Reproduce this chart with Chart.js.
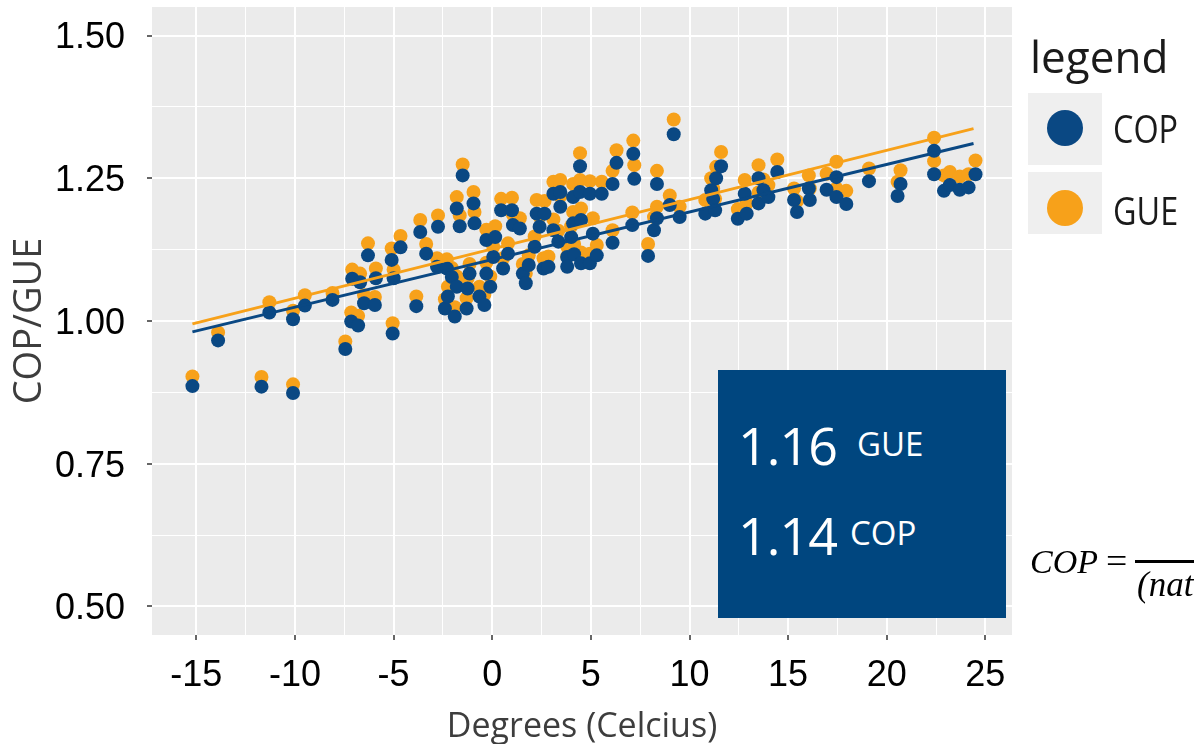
<!DOCTYPE html>
<html>
<head>
<meta charset="utf-8">
<script src="https://cdn.jsdelivr.net/npm/chart.js@4.4.1/dist/chart.umd.min.js"></script>
<style>
html, body { margin:0; padding:0; overflow:hidden; background:#fff; }
#wrap { position:relative; width:1194px; height:744px; overflow:hidden; }
canvas { position:absolute; left:0; top:0; }
.ov { position:absolute; white-space:nowrap; line-height:1; }
</style>
</head>
<body>
<div id="wrap">
<canvas id="c" width="1194" height="744" style="width:1194px;height:744px"></canvas>

<div class="ov" style="left:1030px;top:34px;font-family:'Open Sans';font-size:44px;color:#1a1a1a;">legend</div>
<div class="ov" style="left:1028px;top:93px;width:74px;height:72px;background:#efefef;"></div>
<div class="ov" style="left:1028px;top:172px;width:74px;height:62px;background:#efefef;"></div>
<div class="ov" style="left:1047px;top:110px;width:36px;height:36px;border-radius:50%;background:#0a4883;"></div>
<div class="ov" style="left:1047px;top:190px;width:36px;height:36px;border-radius:50%;background:#f7a11a;"></div>
<div class="ov" style="left:1113px;top:108px;font-family:'Open Sans';font-size:39px;color:#1a1a1a;transform:scaleX(0.83);transform-origin:left top;">COP</div>
<div class="ov" style="left:1113px;top:190px;font-family:'Open Sans';font-size:39px;color:#1a1a1a;transform:scaleX(0.83);transform-origin:left top;">GUE</div>

<div class="ov" style="left:718px;top:370px;width:288px;height:248px;background:#00467f;">
  <div class="ov" style="left:20px;top:49px;font-family:'Open Sans';font-size:52px;color:#fff;letter-spacing:-1px;">1.16</div>
  <div class="ov" style="left:139px;top:57px;font-family:'Open Sans';font-size:33px;color:#fff;">GUE</div>
  <div class="ov" style="left:20px;top:139px;font-family:'Open Sans';font-size:52px;color:#fff;letter-spacing:-1px;">1.14</div>
  <div class="ov" style="left:132px;top:146px;font-family:'Open Sans';font-size:33px;color:#fff;">COP</div>
</div>

<div class="ov" style="left:1030px;top:545px;font-family:'Liberation Serif';font-style:italic;font-size:34px;color:#000;">COP</div>
<div class="ov" style="left:1106px;top:543px;font-family:'Liberation Serif';font-size:36px;color:#000;transform:scaleX(1.05);transform-origin:left top;">=</div>
<div class="ov" style="left:1135px;top:560px;width:70px;height:3px;background:#000;"></div>
<div class="ov" style="left:1137px;top:567px;font-family:'Liberation Serif';font-style:italic;font-size:35px;color:#000;">(natural gas)</div>
</div>

<script>
// ---- data ----
const temps = [
  -15.2,-13.9,-11.7,-11.3,-10.1,-10.1,-9.5,-8.1,-7.45,-7.15,
  -7.1,-6.8,-6.7,-6.5,-6.3,-5.95,-5.9,-5.05,-5.1,-5.0,
  -4.65,-3.85,-3.65,-3.35,-2.8,-2.75,-2.4,-2.3,-2.25,-2.05,
  -1.9,-1.8,-1.8,-1.65,-1.5,-1.3,-1.25,-1.15,-0.95,-0.9,
  -0.65,-0.4,-0.3,-0.3,-0.1,0.05,0.15,0.45,0.55,0.8,
  1.0,1.05,1.4,1.55,1.7,1.85,2.15,2.25,2.4,2.6,
  2.65,2.85,3.1,3.1,3.35,3.45,3.45,3.8,3.8,4.0,
  4.1,4.1,4.15,4.45,4.45,4.5,4.5,4.95,4.95,5.1,
  5.3,5.55,6.1,6.1,6.3,7.1,7.15,7.2,7.9,8.2,
  8.35,8.35,9.0,9.2,9.5,10.8,11.1,11.2,11.3,11.35,
  11.6,12.45,12.8,12.9,13.5,13.5,13.75,14.0,14.45,15.3,
  15.45,16.05,16.1,16.95,17.45,17.45,17.95,19.1,20.55,20.7,
  22.4,22.4,22.9,23.2,23.7,24.15,24.5
];
const copValues = [
  0.886,0.966,0.885,1.015,1.003,0.874,1.027,1.037,0.951,0.999,
  1.074,0.992,1.068,1.031,1.115,1.028,1.075,0.978,1.107,1.075,
  1.129,1.026,1.156,1.118,1.095,1.165,1.022,1.092,1.043,1.077,
  1.008,1.060,1.197,1.166,1.255,1.022,1.057,1.083,1.206,1.171,
  1.043,1.028,1.083,1.142,1.060,1.112,1.147,1.194,1.092,1.118,
  1.194,1.168,1.162,1.083,1.066,1.098,1.130,1.188,1.165,1.092,
  1.188,1.095,1.223,1.159,1.139,1.226,1.200,1.112,1.095,1.147,
  1.217,1.171,1.117,1.271,1.226,1.177,1.101,1.223,1.101,1.153,
  1.115,1.223,1.240,1.137,1.277,1.168,1.293,1.249,1.114,1.159,
  1.240,1.180,1.203,1.327,1.182,1.188,1.229,1.214,1.194,1.250,
  1.271,1.179,1.223,1.188,1.250,1.206,1.229,1.217,1.261,1.212,
  1.191,1.232,1.212,1.230,1.252,1.217,1.205,1.245,1.219,1.240,
  1.298,1.257,1.228,1.238,1.230,1.234,1.257
];
const gueValues = [
  0.903,0.980,0.902,1.033,1.018,0.889,1.045,1.049,0.964,1.015,
  1.090,1.009,1.083,1.045,1.136,1.042,1.092,0.996,1.127,1.090,
  1.149,1.043,1.177,1.135,1.110,1.185,1.038,1.108,1.060,1.093,
  1.024,1.078,1.217,1.185,1.274,1.040,1.075,1.100,1.226,1.191,
  1.060,1.046,1.102,1.160,1.078,1.130,1.166,1.214,1.110,1.136,
  1.216,1.186,1.180,1.100,1.083,1.115,1.148,1.212,1.183,1.110,
  1.210,1.113,1.244,1.178,1.158,1.247,1.219,1.130,1.113,1.166,
  1.240,1.191,1.135,1.294,1.247,1.197,1.120,1.245,1.118,1.180,
  1.133,1.244,1.263,1.159,1.299,1.190,1.316,1.273,1.135,1.182,
  1.263,1.200,1.220,1.353,1.200,1.212,1.250,1.232,1.214,1.270,
  1.296,1.196,1.247,1.206,1.273,1.225,1.248,1.238,1.283,1.232,
  1.210,1.255,1.232,1.258,1.279,1.232,1.228,1.267,1.244,1.264,
  1.321,1.280,1.255,1.261,1.253,1.257,1.281
];
// fitted trend lines (end points)
const fitTemps = [-15.2, 24.4];
const copFit = [0.981, 1.311];
const gueFit = [0.995, 1.337];

// axes
const xMajor = [-15, -10, -5, 0, 5, 10, 15, 20, 25];
const xTickLabels = ['-15', '-10', '-5', '0', '5', '10', '15', '20', '25'];
const xMinor = [-12.5, -7.5, -2.5, 2.5, 7.5, 12.5, 17.5, 22.5];
const yMajor = [0.5, 0.75, 1.0, 1.25, 1.5];
const yTickLabels = ['0.50', '0.75', '1.00', '1.25', '1.50'];
const yMinor = [0.625, 0.875, 1.125, 1.375];

const BLUE = '#0a4883', ORANGE = '#f7a11a';

const pts = (xs, ys) => xs.map((x, i) => ({x: x, y: ys[i]}));
const findMajor = (arr, v) => arr.findIndex(m => Math.abs(m - v) < 1e-6);

const panelBg = {
  id: 'panelBg',
  beforeDraw(chart) {
    const {ctx, chartArea: a} = chart;
    ctx.save();
    ctx.fillStyle = '#ffffff';
    ctx.fillRect(0, 0, chart.width, chart.height);
    ctx.fillStyle = '#ebebeb';
    ctx.fillRect(a.left, a.top, a.right - a.left, a.bottom - a.top);
    ctx.restore();
  }
};

function gridFor(majors) {
  return {
    color: '#ffffff',
    lineWidth: c => (c.tick && findMajor(majors, c.tick.value) >= 0) ? 2 : 1,
    drawTicks: true,
    tickLength: 5,
    tickWidth: 1.5,
    tickColor: c => (c.tick && findMajor(majors, c.tick.value) >= 0) ? '#333333' : 'rgba(0,0,0,0)'
  };
}

new Chart(document.getElementById('c'), {
  type: 'scatter',
  data: {
    datasets: [
      { label: 'COP fit', data: pts(fitTemps, copFit), showLine: true, borderColor: BLUE, borderWidth: 3, pointRadius: 0, order: 0 },
      { label: 'GUE fit', data: pts(fitTemps, gueFit), showLine: true, borderColor: ORANGE, borderWidth: 3, pointRadius: 0, order: 1 },
      { label: 'COP', data: pts(temps, copValues), backgroundColor: BLUE, borderWidth: 0, pointRadius: 7, order: 2 },
      { label: 'GUE', data: pts(temps, gueValues), backgroundColor: ORANGE, borderWidth: 0, pointRadius: 7, order: 3 }
    ]
  },
  options: {
    responsive: false,
    animation: false,
    devicePixelRatio: 1,
    layout: { padding: { left: 0, right: 182, top: 7, bottom: 0 } },
    plugins: { legend: { display: false }, tooltip: { enabled: false } },
    scales: {
      x: {
        type: 'linear', min: -17.25, max: 26.35,
        afterBuildTicks: s => { s.ticks = xMajor.concat(xMinor).sort((a, b) => a - b).map(v => ({value: v})); },
        afterFit: s => { s.height = 109; s.paddingLeft = 0; s.paddingRight = 0; },
        border: { display: false },
        grid: gridFor(xMajor),
        ticks: {
          autoSkip: false, maxRotation: 0, padding: 14, color: '#000',
          font: { family: 'Liberation Sans', size: 36 },
          callback: v => { const i = findMajor(xMajor, v); return i >= 0 ? xTickLabels[i] : ''; }
        },
        title: { display: true, text: 'Degrees (Celcius)', color: '#3d3d3d',
          font: { family: 'Open Sans', size: 34, lineHeight: 1 }, padding: { top: 0, bottom: 0 } }
      },
      y: {
        type: 'linear', min: 0.45, max: 1.55,
        afterBuildTicks: s => { s.ticks = yMajor.concat(yMinor).sort((a, b) => a - b).map(v => ({value: v})); },
        afterFit: s => { s.width = 152; s.paddingTop = 0; s.paddingBottom = 0; },
        border: { display: false },
        grid: gridFor(yMajor),
        ticks: {
          autoSkip: false, padding: 22, color: '#000', labelOffset: 3,
          font: { family: 'Liberation Sans', size: 36 },
          callback: v => { const i = findMajor(yMajor, v); return i >= 0 ? yTickLabels[i] : ''; }
        },
        title: { display: true, text: 'COP/GUE', color: '#3d3d3d',
          font: { family: 'Open Sans', size: 38, lineHeight: 1 }, padding: { top: 11, bottom: 0 } }
      }
    }
  },
  plugins: [panelBg]
});
</script>
</body>
</html>
